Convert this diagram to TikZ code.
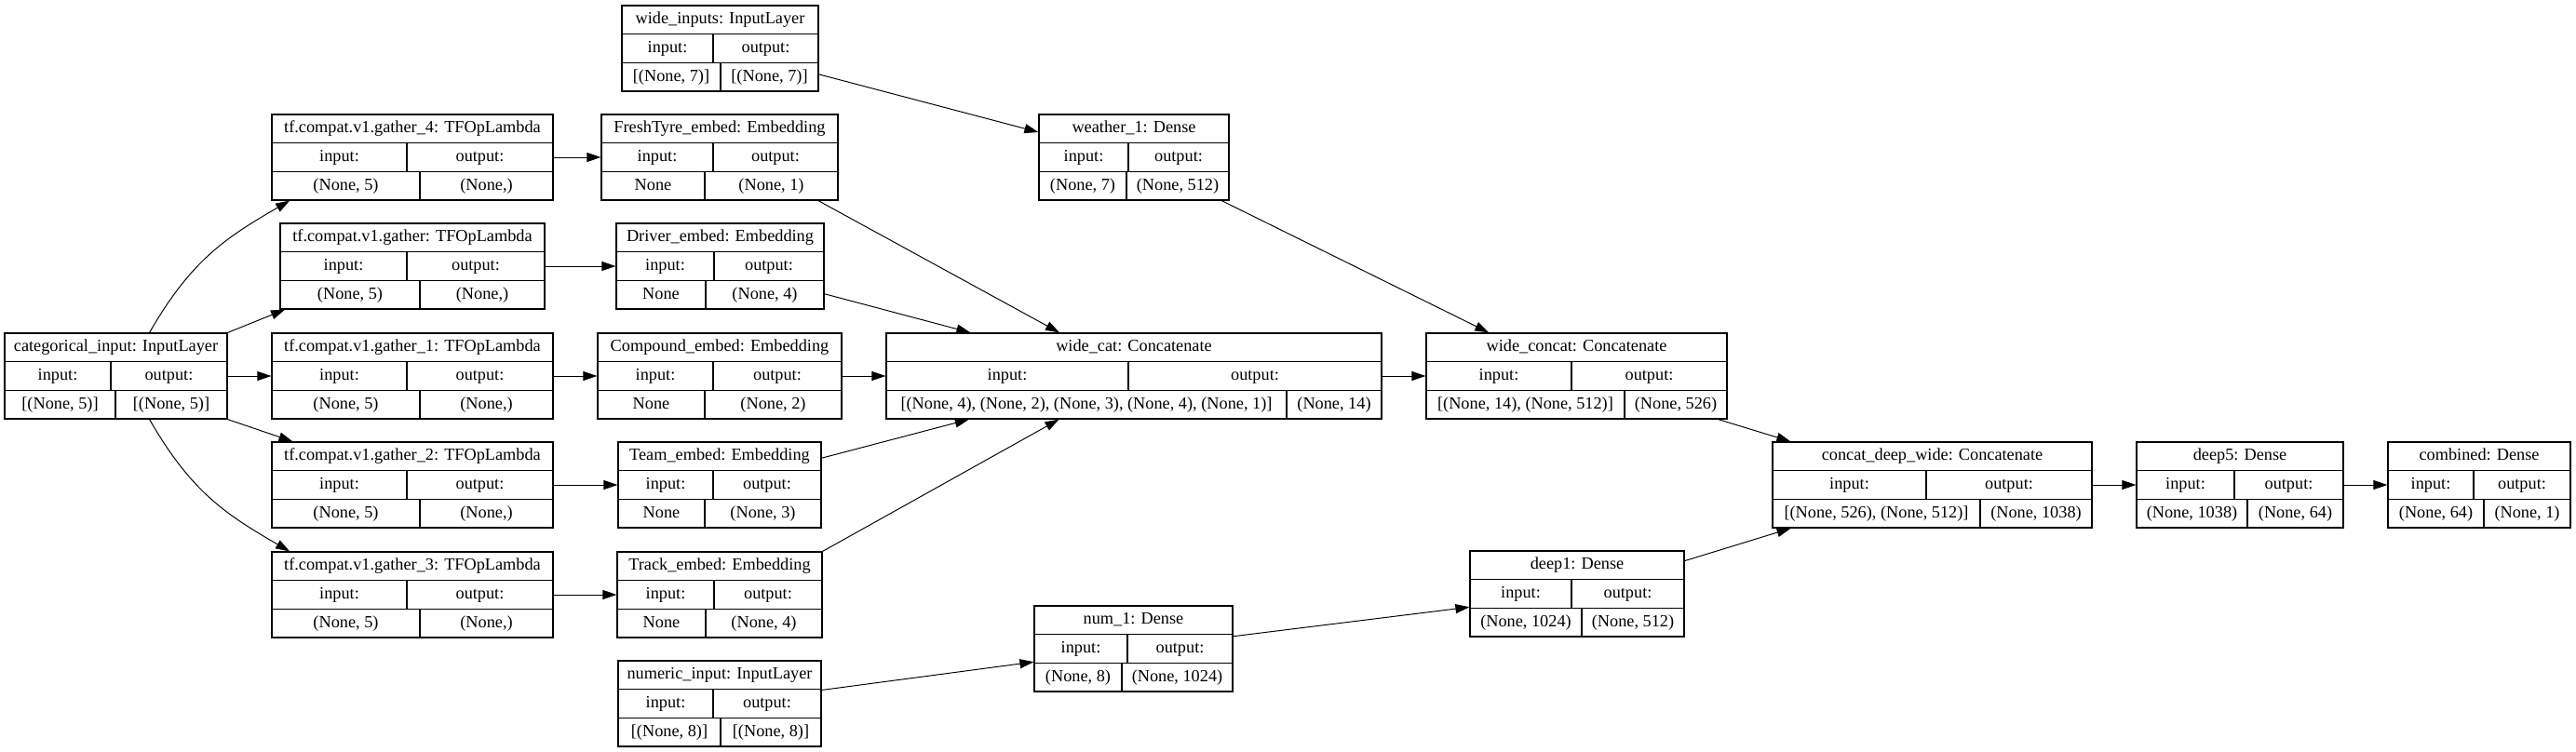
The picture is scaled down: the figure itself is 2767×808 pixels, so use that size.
\documentclass[tikz,border=0pt]{standalone}
\usepackage{fontspec}
\setmainfont{Liberation Serif}
\usetikzlibrary{arrows.meta,calc,fit}

\tikzset{
	layerbox/.style={draw, line width=0.7pt, inner sep=0pt},
	cellline/.style={line width=0.7pt},
	celltext/.style={inner sep=0pt, text height=7.3pt, text depth=2.3pt},
	edge/.style={-{Triangle[length=3mm,width=2mm]}, line width=0.55pt}
}

% #1 name, #2 left, #3 top, #4 right, #5 split of row 2, #6 split of row 3, #7 title, #8 input shape, #9 output shape
\newcommand{\layer}[9]{%
	\node[layerbox, fit={(#2,#3) (#4,#3+92)}] (#1) {};
	\draw[cellline] (#2,#3+30.67) -- (#4,#3+30.67) (#2,#3+61.33) -- (#4,#3+61.33);
	\draw[cellline] (#5,#3+30.67) -- (#5,#3+61.33) (#6,#3+61.33) -- (#6,#3+92);
	\node[celltext] (#1-title) at ({(#2+#4)/2},#3+15.33) {#7};
	\node[celltext] (#1-in) at ({(#2+#5)/2},#3+46) {input:};
	\node[celltext] (#1-out) at ({(#5+#4)/2},#3+46) {output:};
	\node[celltext] (#1-inval) at ({(#2+#6)/2},#3+76.67) {#8};
	\node[celltext] (#1-outval) at ({(#6+#4)/2},#3+76.67) {#9};
}

\begin{document}
\begin{tikzpicture}[x=0.2mm, y=-0.2mm, font=\fontsize{10.4}{12}\selectfont]
		\useasboundingbox (0,0) rectangle (2767,808);

		% inputs
		\layer{wideinputs}{668}{6}{879}{766}{774}{wide\_inputs: InputLayer}{[(None, 7)]}{[(None, 7)]}
		\layer{categorical}{5}{358}{244}{119}{124}{categorical\_input: InputLayer}{[(None, 5)]}{[(None, 5)]}
		\layer{numeric}{664}{710}{882}{766}{774}{numeric\_input: InputLayer}{[(None, 8)]}{[(None, 8)]}

		% gather layers
		\layer{gatherFour}{292}{123}{594}{437}{451}{tf.compat.v1.gather\_4: TFOpLambda}{(None, 5)}{(None,)}
		\layer{gather}{301}{240}{585}{437}{451}{tf.compat.v1.gather: TFOpLambda}{(None, 5)}{(None,)}
		\layer{gatherOne}{292}{358}{594}{437}{451}{tf.compat.v1.gather\_1: TFOpLambda}{(None, 5)}{(None,)}
		\layer{gatherTwo}{292}{475}{594}{437}{451}{tf.compat.v1.gather\_2: TFOpLambda}{(None, 5)}{(None,)}
		\layer{gatherThree}{292}{593}{594}{437}{451}{tf.compat.v1.gather\_3: TFOpLambda}{(None, 5)}{(None,)}

		% embeddings
		\layer{freshTyre}{646}{123}{900}{766}{757}{FreshTyre\_embed: Embedding}{None}{(None, 1)}
		\layer{driver}{662}{240}{885}{767}{758}{Driver\_embed: Embedding}{None}{(None, 4)}
		\layer{compound}{642}{358}{904}{766}{757}{Compound\_embed: Embedding}{None}{(None, 2)}
		\layer{team}{664}{475}{882}{766}{757}{Team\_embed: Embedding}{None}{(None, 3)}
		\layer{track}{663}{593}{883}{767}{758}{Track\_embed: Embedding}{None}{(None, 4)}

		% dense and concatenate layers
		\layer{weather}{1116}{123}{1320}{1212}{1210}{weather\_1: Dense}{(None, 7)}{(None, 512)}
		\layer{wideCat}{952}{358}{1484}{1212}{1382}{wide\_cat: Concatenate}{[(None, 4), (None, 2), (None, 3), (None, 4), (None, 1)]}{(None, 14)}
		\layer{wideConcat}{1532}{358}{1855}{1688}{1745}{wide\_concat: Concatenate}{[(None, 14), (None, 512)]}{(None, 526)}
		\layer{numOne}{1111}{651}{1324}{1211}{1205}{num\_1: Dense}{(None, 8)}{(None, 1024)}
		\layer{deepOne}{1579}{592}{1809}{1688}{1699}{deep1: Dense}{(None, 1024)}{(None, 512)}
		\layer{concatDeepWide}{1904}{475}{2247}{2069}{2127}{concat\_deep\_wide: Concatenate}{[(None, 526), (None, 512)]}{(None, 1038)}
		\layer{deepFive}{2295}{475}{2517}{2400}{2414}{deep5: Dense}{(None, 1038)}{(None, 64)}
		\layer{combined}{2565}{475}{2761}{2657}{2668}{combined: Dense}{(None, 64)}{(None, 1)}

		% categorical input to gather layers
		\draw[edge] ($(categorical.north west)!0.65!(categorical.north east)$) .. controls +(45,-78) and +(-69,40) .. ($(gatherFour.south west)!0.065!(gatherFour.south east)$);
		\draw[edge] (categorical.north east) -- ($(gather.south west)!0.02!(gather.south east)$);
		\draw[edge] (categorical) -- (gatherOne);
		\draw[edge] (categorical.south east) -- ($(gatherTwo.north west)!0.076!(gatherTwo.north east)$);
		\draw[edge] ($(categorical.south west)!0.65!(categorical.south east)$) .. controls +(45,78) and +(-69,-40) .. ($(gatherThree.north west)!0.065!(gatherThree.north east)$);

		% gather layers to embeddings
		\draw[edge] (gatherFour) -- (freshTyre);
		\draw[edge] (gather) -- (driver);
		\draw[edge] (gatherOne) -- (compound);
		\draw[edge] (gatherTwo) -- (team);
		\draw[edge] (gatherThree) -- (track);

		% embeddings to wide_cat
		\draw[edge] ($(freshTyre.south west)!0.915!(freshTyre.south east)$) -- ($(wideCat.north west)!0.35!(wideCat.north east)$);
		\draw[edge] (driver) -- (wideCat);
		\draw[edge] (compound) -- (wideCat);
		\draw[edge] (team) -- (wideCat);
		\draw[edge] (track.north east) -- ($(wideCat.south west)!0.349!(wideCat.south east)$);

		% wide part
		\draw[edge] (wideinputs) -- (weather);
		\draw[edge] (weather) -- (wideConcat);
		\draw[edge] (wideCat) -- (wideConcat);

		% deep part
		\draw[edge] (numeric) -- (numOne);
		\draw[edge] (numOne) -- (deepOne);

		% combine
		\draw[edge] (wideConcat) -- (concatDeepWide);
		\draw[edge] (deepOne) -- (concatDeepWide);
		\draw[edge] (concatDeepWide) -- (deepFive);
		\draw[edge] (deepFive) -- (combined);

	\end{tikzpicture}
\end{document}
